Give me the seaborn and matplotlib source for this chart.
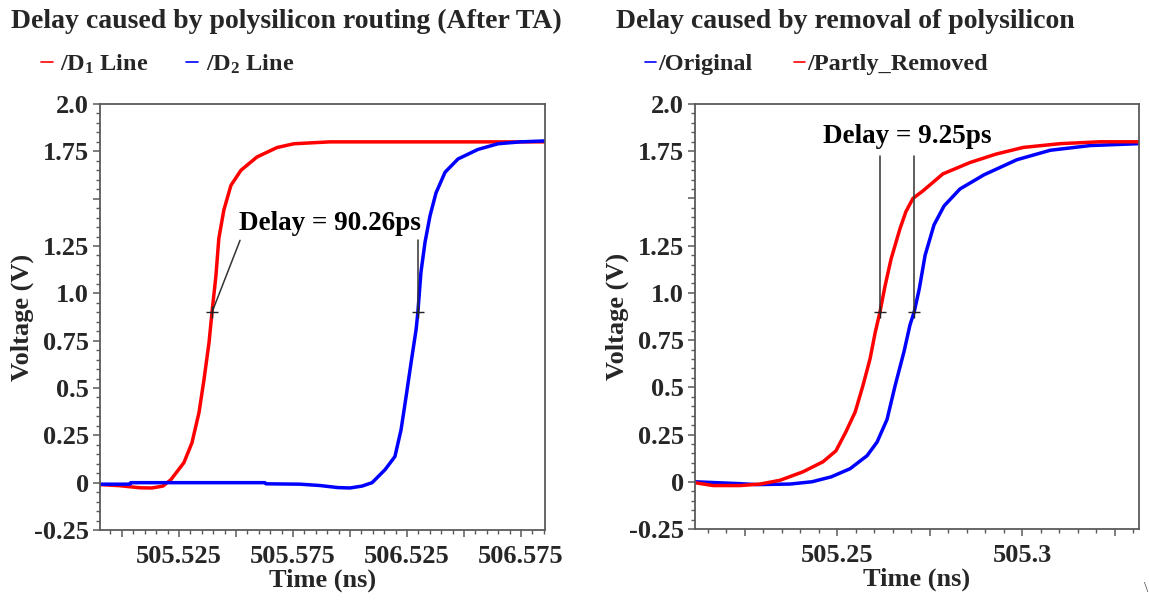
import numpy as np
import pandas as pd
import matplotlib
matplotlib.use("Agg")
import matplotlib.pyplot as plt
from matplotlib.lines import Line2D
from matplotlib.ticker import FixedLocator, FixedFormatter, MultipleLocator
import seaborn as sns

# ---------------- Panel 1: delay caused by polysilicon routing ----------------
d1_time = [505.4904, 505.4991, 505.5079, 505.5132, 505.5180, 505.5215, 505.5272,
           505.5307, 505.5338, 505.5360, 505.5382, 505.5412, 505.5425, 505.5447,
           505.5478, 505.5522, 505.5592, 505.5680, 505.5754, 505.5912, 505.6855]
d1_volt = [-0.010, -0.016, -0.027, -0.028, -0.018, 0.016, 0.106,
           0.210, 0.370, 0.545, 0.740, 1.090, 1.290, 1.440,
           1.570, 1.650, 1.720, 1.770, 1.790, 1.800, 1.800]
d2_time = [505.4904, 505.5035, 505.5039, 505.5627, 505.5632, 505.5781, 505.5868,
           505.5947, 505.6000, 505.6053, 505.6097, 505.6154, 505.6197, 505.6224,
           505.6246, 505.6268, 505.6290, 505.6311, 505.6329, 505.6351, 505.6377,
           505.6417, 505.6474, 505.6561, 505.6649, 505.6746, 505.6855]
d2_volt = [-0.008, -0.008, 0.000, 0.000, -0.006, -0.008, -0.015,
           -0.026, -0.028, -0.018, 0.000, 0.069, 0.138, 0.280,
           0.455, 0.635, 0.810, 1.110, 1.270, 1.410, 1.530,
           1.640, 1.710, 1.760, 1.790, 1.800, 1.805]
routing_delay_ps = 90.26
d1_cross_time = 505.5395
routing_xlim = (505.4904, 505.6855)
routing_xticks = [505.525, 505.575, 505.625, 505.675]
routing_xticklabels = ["505.525", "505.575", "506.525", "506.575"]

# ---------------- Panel 2: delay caused by removal of polysilicon ----------------
orig_time = [505.2116, 505.2238, 505.2284, 505.2373, 505.2432, 505.2484, 505.2535,
             505.2581, 505.2608, 505.2635, 505.2657, 505.2681, 505.2697, 505.2722,
             505.2738, 505.2762, 505.2789, 505.2832, 505.2897, 505.2986, 505.3076,
             505.3184, 505.3316]
orig_volt = [0.000, -0.010, -0.015, -0.012, 0.000, 0.026, 0.069,
             0.138, 0.210, 0.330, 0.510, 0.690, 0.830, 1.020,
             1.200, 1.360, 1.460, 1.550, 1.625, 1.705, 1.755,
             1.780, 1.790]
part_time = [505.2116, 505.2165, 505.2238, 505.2292, 505.2346, 505.2408, 505.2462,
             505.2497, 505.2524, 505.2549, 505.2570, 505.2589, 505.2603, 505.2630,
             505.2646, 505.2670, 505.2686, 505.2705, 505.2732, 505.2786, 505.2859,
             505.2930, 505.3003, 505.3103, 505.3211, 505.3316]
part_volt = [-0.005, -0.020, -0.020, -0.012, 0.008, 0.053, 0.106,
             0.164, 0.265, 0.370, 0.510, 0.650, 0.790, 1.040,
             1.180, 1.340, 1.430, 1.500, 1.540, 1.630, 1.690,
             1.735, 1.770, 1.790, 1.800, 1.800]
removal_delay_ps = 9.25
part_cross_time = 505.2616
removal_xlim = (505.2116, 505.3316)
removal_xticks = [505.25, 505.30]
removal_xticklabels = ["505.25", "505.3"]

# ---------------- shared axis settings ----------------
v_mid = 0.9
y_ticks = [-0.25, 0.0, 0.25, 0.5, 0.75, 1.0, 1.25, 1.5, 1.75, 2.0]
y_ticklabels = ["-0.25", "0", "0.25", "0.5", "0.75", "1.0", "1.25", "", "1.75", "2.0"]

RED = "#ff0000"
BLUE = "#0000ff"
SPINE = "#5a5a5a"

sns.set_style("ticks")
plt.rcParams["font.family"] = ["Liberation Serif", "DejaVu Serif"]
plt.rcParams["font.weight"] = "bold"
plt.rcParams["axes.labelweight"] = "bold"
plt.rcParams["mathtext.fontset"] = "custom"
plt.rcParams["mathtext.rm"] = "Liberation Serif:bold"
plt.rcParams["mathtext.it"] = "Liberation Serif:bold"
plt.rcParams["mathtext.bf"] = "Liberation Serif:bold"

TICK_FS = 19
LABEL_FS = 19
TITLE_FS = 20
LEGEND_FS = 17.5
NOTE_FS = 19.5

fig = plt.figure(figsize=(11.49, 6.01), dpi=100)
ax1 = fig.add_axes([100 / 1149, 71 / 601, 445 / 1149, 426 / 601])
ax2 = fig.add_axes([695 / 1149, 72 / 601, 444 / 1149, 425 / 601])


def with_point(times, volts, t_new, v_new):
    t = np.append(np.asarray(times, float), t_new)
    v = np.append(np.asarray(volts, float), v_new)
    order = np.argsort(t)
    return t[order], v[order]


def draw_panel(ax, series, colors, xlim, xticks, xticklabels, cross_times):
    frames = []
    for name, (t, v) in series.items():
        frames.append(pd.DataFrame({"Time": t, "Voltage": v, "Signal": name}))
    df = pd.concat(frames, ignore_index=True)
    palette = dict(zip(series.keys(), colors))
    sns.lineplot(data=df, x="Time", y="Voltage", hue="Signal", palette=palette,
                 sort=False, estimator=None, linewidth=2.5, legend=False, ax=ax)

    # half-swing measurement points
    ax.plot(cross_times, [v_mid] * len(cross_times), linestyle="none", marker="+",
            color="#222222", markersize=8, markeredgewidth=1.0, zorder=5)

    ax.set_xlim(*xlim)
    ax.set_ylim(-0.25, 2.0)

    # major ticks every 0.025 ns, labelled every 0.05 ns
    step = 0.025
    first = np.ceil(xlim[0] / step - 1e-6) * step
    majors = np.round(np.arange(first, xlim[1] + 1e-9, step), 3)
    lab_map = {round(p, 3): s for p, s in zip(xticks, xticklabels)}
    ax.xaxis.set_major_locator(FixedLocator(majors))
    ax.xaxis.set_major_formatter(FixedFormatter([lab_map.get(round(m, 3), "") for m in majors]))
    ax.xaxis.set_minor_locator(MultipleLocator(0.005))

    ax.yaxis.set_major_locator(FixedLocator(y_ticks))
    ax.yaxis.set_major_formatter(FixedFormatter(y_ticklabels))
    ax.yaxis.set_minor_locator(MultipleLocator(0.05))

    ax.tick_params(which="major", direction="out", length=5, width=1.1, color=SPINE,
                   labelsize=TICK_FS)
    ax.tick_params(which="minor", direction="out", length=3, width=1.0, color=SPINE)
    ax.tick_params(axis="x", which="major", pad=6)
    ax.tick_params(axis="y", which="major", pad=3)
    for lab in ax.get_xticklabels() + ax.get_yticklabels():
        lab.set_fontweight("bold")
    for sp in ax.spines.values():
        sp.set_visible(True)
        sp.set_color(SPINE)
        sp.set_linewidth(1.3)

    ax.set_xlabel("Time (ns)", fontsize=LABEL_FS, labelpad=0)
    ax.set_ylabel("Voltage (V)", fontsize=LABEL_FS, labelpad=0)


# Panel 1 curves, each passing through its 0.9 V point
d2_cross_time = d1_cross_time + routing_delay_ps / 1000.0
s1 = {
    "/D1 Line": with_point(d1_time, d1_volt, d1_cross_time, v_mid),
    "/D2 Line": with_point(d2_time, d2_volt, d2_cross_time, v_mid),
}
draw_panel(ax1, s1, [RED, BLUE], routing_xlim, routing_xticks, routing_xticklabels,
           [d1_cross_time, d2_cross_time])

orig_cross_time = part_cross_time + removal_delay_ps / 1000.0
s2 = {
    "/Original": with_point(orig_time, orig_volt, orig_cross_time, v_mid),
    "/Partly_Removed": with_point(part_time, part_volt, part_cross_time, v_mid),
}
draw_panel(ax2, s2, [BLUE, RED], removal_xlim, removal_xticks, removal_xticklabels,
           [part_cross_time, orig_cross_time])

# Delay annotations
NOTE_COL = "#333333"
ax1.text(505.5912, 1.37, f"Delay = {routing_delay_ps:.2f}ps", ha="center", va="center",
         fontsize=NOTE_FS, fontweight="bold", color="black")
ax1.plot([d1_cross_time, 505.5518], [v_mid, 1.28], color=NOTE_COL, lw=1.1)
ax1.plot([d2_cross_time, d2_cross_time], [v_mid, 1.28], color=NOTE_COL, lw=1.1)

ax2.text(505.2689, 1.83, f"Delay = {removal_delay_ps:.2f}ps", ha="center", va="center",
         fontsize=NOTE_FS, fontweight="bold", color="black")
ax2.plot([part_cross_time, part_cross_time], [v_mid, 1.725], color=NOTE_COL, lw=1.1)
ax2.plot([orig_cross_time, orig_cross_time], [v_mid, 1.725], color=NOTE_COL, lw=1.1)

# Legends above each panel
leg_font = {"family": "Liberation Serif", "weight": "bold", "size": LEGEND_FS}
h1 = [Line2D([0], [0], color=RED, lw=1.2), Line2D([0], [0], color=BLUE, lw=1.2)]
ax1.legend(h1, ["/D$_1$ Line", "/D$_2$ Line"], ncol=2, loc="center left",
           bbox_to_anchor=(-0.133, 1.094), frameon=False, handlelength=0.5,
           handletextpad=0.3, columnspacing=1.55, borderpad=0, borderaxespad=0,
           prop=leg_font)
h2 = [Line2D([0], [0], color=BLUE, lw=1.2), Line2D([0], [0], color=RED, lw=1.2)]
ax2.legend(h2, ["/Original", "/Partly_Removed"], ncol=2, loc="center left",
           bbox_to_anchor=(-0.112, 1.094), frameon=False, handlelength=0.45,
           handletextpad=0.1, columnspacing=1.7, borderpad=0, borderaxespad=0,
           prop=leg_font)

# Panel titles
fig.text(11 / 1149, 1 - 21 / 601, "Delay caused by polysilicon routing (After TA)",
         ha="left", va="center", fontsize=TITLE_FS, fontweight="bold")
fig.text(616 / 1149, 1 - 21 / 601, "Delay caused by removal of polysilicon",
         ha="left", va="center", fontsize=TITLE_FS, fontweight="bold")
fig.text(1146 / 1149, 1 - 588 / 601, "\\", ha="center", va="center", fontsize=11,
         fontweight="normal", color="#444444")

fig.savefig("out.png", dpi=100, facecolor="white")
